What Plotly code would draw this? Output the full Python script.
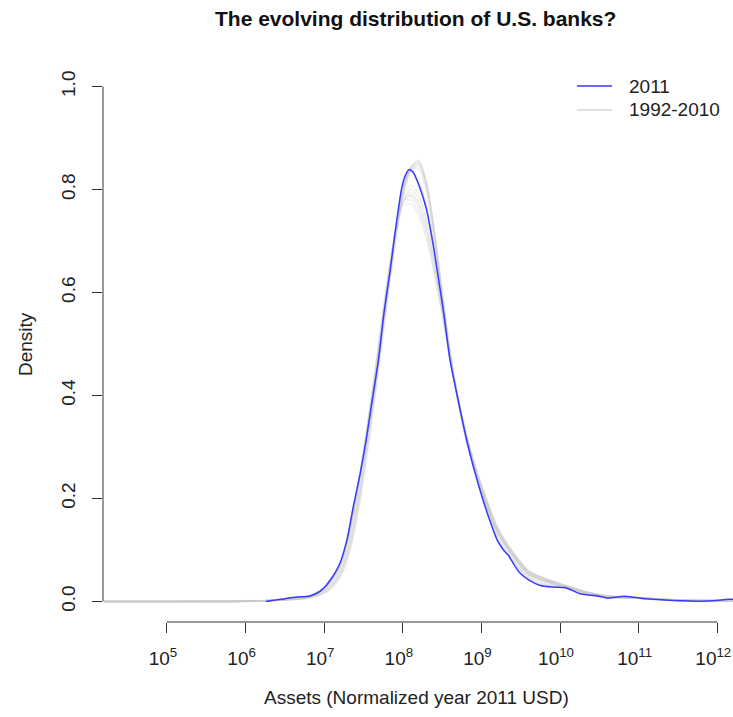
import plotly.graph_objects as go

# ---- data (x in log10 of assets, normalized 2011 USD) ----
blue_x = [6.26, 6.45, 6.57, 6.70, 6.80, 6.88, 6.95, 7.02, 7.07, 7.14, 7.20, 7.29, 7.37, 7.46, 7.53,
          7.60, 7.69, 7.76, 7.84, 7.90, 7.99, 8.04, 8.08, 8.13, 8.18, 8.24, 8.30, 8.39, 8.45, 8.52,
          8.60, 8.73, 8.81, 8.90, 9.02, 9.10, 9.20, 9.28, 9.34, 9.42, 9.49, 9.60, 9.75, 9.90, 10.06,
          10.15, 10.25, 10.40, 10.51, 10.60, 10.70, 10.81, 10.95, 11.10, 11.44, 11.87, 12.14, 12.20]
blue_y = [0.000, 0.004, 0.007, 0.009, 0.010, 0.014, 0.020, 0.030, 0.040, 0.056, 0.074, 0.120, 0.184, 0.250, 0.310,
          0.380, 0.469, 0.560, 0.644, 0.715, 0.806, 0.830, 0.839, 0.834, 0.818, 0.793, 0.762, 0.689, 0.630, 0.560,
          0.469, 0.372, 0.315, 0.260, 0.197, 0.160, 0.119, 0.100, 0.090, 0.070, 0.055, 0.042, 0.031, 0.028, 0.027,
          0.022, 0.015, 0.012, 0.0097, 0.0065, 0.008, 0.010, 0.008, 0.005, 0.002, 0.0006, 0.004, 0.004]

grid_x = [4.2, 5.0, 5.8, 6.3, 6.6, 6.8, 7.0, 7.1, 7.2, 7.3, 7.4, 7.5, 7.6, 7.7, 7.8, 7.9, 8.0, 8.1, 8.2,
          8.3, 8.4, 8.5, 8.6, 8.7, 8.8, 8.9, 9.0, 9.2, 9.4, 9.6, 9.8, 10.0, 10.3, 10.6, 11.0, 11.5, 12.2]

gray_years = list(range(1992, 2011))
gray_density = [
    [0,0,0,0.001,0.003,0.006, 0.015,0.026,0.045,0.082,0.145,0.235,0.342,0.458,0.578,0.690,0.782,0.834,0.848,0.812,0.722,0.605,0.488,0.396,0.322,0.266,0.218,0.138,0.091,0.055,0.042,0.032,0.019,0.010,0.006,0.002,0.001],
    [0,0,0,0.001,0.003,0.006, 0.016,0.028,0.048,0.086,0.151,0.242,0.349,0.464,0.583,0.694,0.786,0.838,0.852,0.814,0.722,0.603,0.486,0.394,0.321,0.265,0.217,0.137,0.090,0.054,0.041,0.032,0.019,0.010,0.006,0.002,0.001],
    [0,0,0.001,0.001,0.004,0.007, 0.017,0.029,0.050,0.090,0.156,0.248,0.355,0.470,0.588,0.698,0.790,0.842,0.856,0.815,0.720,0.600,0.484,0.392,0.320,0.264,0.216,0.136,0.089,0.054,0.041,0.031,0.018,0.009,0.006,0.002,0.001],
    [0,0,0.001,0.002,0.004,0.007, 0.018,0.031,0.052,0.093,0.161,0.253,0.360,0.475,0.592,0.702,0.793,0.844,0.858,0.816,0.718,0.598,0.482,0.391,0.319,0.263,0.215,0.136,0.089,0.053,0.040,0.031,0.018,0.009,0.006,0.002,0.001],
    [0,0,0,0.002,0.004,0.007, 0.019,0.032,0.054,0.096,0.165,0.258,0.364,0.478,0.595,0.704,0.794,0.843,0.854,0.810,0.714,0.596,0.481,0.390,0.318,0.263,0.215,0.135,0.088,0.053,0.040,0.031,0.018,0.009,0.006,0.002,0.001],
    [0,0,0,0.002,0.004,0.008, 0.020,0.034,0.056,0.099,0.169,0.262,0.368,0.481,0.597,0.706,0.795,0.842,0.850,0.805,0.710,0.594,0.480,0.390,0.318,0.262,0.214,0.135,0.088,0.052,0.040,0.030,0.018,0.009,0.006,0.002,0.001],
    [0,0,0,0.002,0.005,0.008, 0.021,0.035,0.058,0.102,0.173,0.266,0.371,0.484,0.600,0.708,0.796,0.840,0.845,0.800,0.706,0.592,0.479,0.389,0.317,0.262,0.214,0.134,0.087,0.052,0.039,0.030,0.017,0.009,0.006,0.002,0.001],
    [0,0,0,0.002,0.005,0.008, 0.022,0.037,0.060,0.105,0.177,0.270,0.375,0.487,0.603,0.710,0.797,0.838,0.840,0.796,0.703,0.590,0.478,0.389,0.317,0.262,0.214,0.134,0.087,0.052,0.039,0.030,0.017,0.009,0.006,0.002,0.001],
    [0,0,0,0.002,0.005,0.009, 0.024,0.040,0.065,0.113,0.188,0.280,0.382,0.492,0.606,0.706,0.778,0.800,0.786,0.740,0.665,0.575,0.482,0.398,0.328,0.272,0.224,0.142,0.094,0.058,0.044,0.034,0.020,0.010,0.007,0.003,0.001],
    [0,0,0,0.002,0.005,0.009, 0.025,0.042,0.068,0.117,0.193,0.285,0.388,0.498,0.612,0.710,0.778,0.795,0.776,0.728,0.655,0.568,0.478,0.397,0.328,0.272,0.224,0.143,0.095,0.058,0.044,0.034,0.020,0.010,0.007,0.003,0.001],
    [0,0,0.001,0.002,0.005,0.009, 0.026,0.043,0.070,0.120,0.197,0.290,0.393,0.503,0.617,0.713,0.776,0.788,0.766,0.718,0.647,0.562,0.475,0.396,0.328,0.273,0.225,0.144,0.095,0.059,0.045,0.034,0.020,0.011,0.007,0.003,0.001],
    [0,0,0.001,0.002,0.005,0.009, 0.026,0.044,0.071,0.122,0.200,0.293,0.397,0.507,0.620,0.714,0.772,0.780,0.757,0.710,0.640,0.558,0.473,0.396,0.329,0.274,0.226,0.145,0.096,0.059,0.045,0.035,0.020,0.011,0.007,0.003,0.001],
    [0,0,0,0.002,0.005,0.009, 0.027,0.045,0.072,0.123,0.201,0.294,0.398,0.508,0.620,0.712,0.768,0.772,0.750,0.704,0.636,0.556,0.472,0.396,0.330,0.275,0.227,0.146,0.096,0.060,0.045,0.035,0.020,0.011,0.007,0.003,0.001],
    [0,0,0,0.002,0.005,0.009, 0.026,0.044,0.071,0.121,0.198,0.291,0.394,0.504,0.617,0.713,0.775,0.790,0.772,0.724,0.650,0.563,0.474,0.395,0.327,0.272,0.224,0.143,0.095,0.058,0.044,0.034,0.020,0.010,0.007,0.003,0.001],
    [0,0,0,0.002,0.005,0.009, 0.025,0.042,0.068,0.117,0.193,0.286,0.389,0.499,0.612,0.712,0.785,0.808,0.792,0.742,0.662,0.568,0.474,0.393,0.325,0.270,0.222,0.141,0.093,0.057,0.043,0.033,0.019,0.010,0.007,0.003,0.001],
    [0,0,0,0.001,0.006,0.009, 0.026,0.044,0.071,0.123,0.200,0.282,0.378,0.480,0.603,0.713,0.805,0.835,0.818,0.770,0.688,0.586,0.474,0.395,0.323,0.264,0.211,0.126,0.082,0.048,0.036,0.030,0.016,0.008,0.007,0.002,0.002],
    [0,0,0,0.001,0.006,0.009, 0.026,0.045,0.072,0.125,0.203,0.284,0.380,0.481,0.604,0.714,0.806,0.836,0.815,0.767,0.685,0.584,0.472,0.394,0.322,0.263,0.210,0.125,0.081,0.047,0.035,0.029,0.016,0.008,0.007,0.002,0.002],
    [0,0,0,0.001,0.007,0.010, 0.027,0.046,0.073,0.126,0.204,0.284,0.380,0.480,0.604,0.714,0.808,0.837,0.812,0.764,0.683,0.582,0.471,0.394,0.321,0.262,0.209,0.123,0.079,0.045,0.033,0.028,0.015,0.007,0.007,0.002,0.002],
    [0,0,0,0.001,0.007,0.010, 0.027,0.046,0.074,0.127,0.205,0.285,0.380,0.480,0.605,0.715,0.809,0.838,0.811,0.763,0.681,0.581,0.470,0.394,0.321,0.261,0.208,0.121,0.077,0.043,0.032,0.028,0.015,0.007,0.007,0.002,0.002],
]

x_tick_vals = [5, 6, 7, 8, 9, 10, 11, 12]
x_tick_text = ["10<sup>%d</sup>" % v for v in x_tick_vals]
y_tick_vals = [0.0, 0.2, 0.4, 0.6, 0.8, 1.0]
y_tick_text = ["0.0", "0.2", "0.4", "0.6", "0.8", "1.0"]
legend_labels = ["2011", "1992-2010"]

FONT = "Liberation Sans, Arial, Helvetica, sans-serif"
TXT = "#222222"
GRAY = "rgba(200,200,200,0.24)"
GRAY_KEY = "rgb(214,214,214)"
BLUE = "#3a3aff"
BASE = 19

W, H = 733, 717
ML, MR, MT, MB = 103, 0, 66, 95
PW, PH = W - ML - MR, H - MT - MB


def px(x):
    return (x - ML) / PW


def py(y):
    return (H - MB - y) / PH


fig = go.Figure()
for i, (yr, dens) in enumerate(zip(gray_years, gray_density)):
    fig.add_trace(go.Scatter(
        x=grid_x, y=dens, mode="lines", name=str(yr),
        line=dict(color=GRAY, width=1.5, shape="spline", smoothing=0.7),
        showlegend=False))
fig.add_trace(go.Scatter(
    x=blue_x, y=blue_y, mode="lines", name="2011",
    line=dict(color=BLUE, width=1.5, shape="spline", smoothing=0.6),
    showlegend=False))

shapes = [
    dict(type="line", xref="x", yref="paper", x0=5, x1=12, y0=0, y1=0,
         line=dict(color="#333333", width=1)),
    dict(type="line", xref="paper", yref="y", x0=0, x1=0, y0=0, y1=1,
         line=dict(color="#333333", width=1)),
]
annotations = [
    dict(text="<b>The evolving distribution of U.S. banks?</b>", xref="paper", yref="paper",
         x=px(415), y=py(18), xanchor="center", yanchor="middle", showarrow=False,
         font=dict(size=21, color="#111111")),
    dict(text="Density", xref="paper", yref="paper", x=px(25), y=py(344), textangle=-90,
         xanchor="center", yanchor="middle", showarrow=False, font=dict(size=BASE, color=TXT)),
    dict(text="Assets (Normalized year 2011 USD)", xref="paper", yref="paper",
         x=px(416), y=py(697), xanchor="center", yanchor="middle", showarrow=False,
         font=dict(size=BASE, color=TXT)),
]
# manual legend (R style, no box)
for lab, col, yy in zip(legend_labels, [BLUE, GRAY_KEY], [86, 110]):
    shapes.append(dict(type="line", xref="paper", yref="paper",
                       x0=px(577), x1=px(612), y0=py(yy), y1=py(yy),
                       line=dict(color=col, width=1.6)))
    annotations.append(dict(text=lab, xref="paper", yref="paper", x=px(627), y=py(yy),
                            xanchor="left", yanchor="middle", showarrow=False,
                            font=dict(size=BASE, color=TXT)))

fig.update_layout(
    width=W, height=H,
    margin=dict(l=ML, r=MR, t=MT, b=MB, autoexpand=False),
    paper_bgcolor="white", plot_bgcolor="white",
    font=dict(family=FONT, size=BASE, color=TXT),
    showlegend=False,
    xaxis=dict(range=[4.186, 12.2], tickvals=x_tick_vals, ticktext=x_tick_text,
               ticks="outside", ticklen=10, tickwidth=1, tickcolor="#333333",
               showline=False, showgrid=False, zeroline=False, automargin=False,
               ticklabeloverflow="allow", ticklabelshift=-4,
               ticklabelstandoff=9, tickfont=dict(size=BASE, color=TXT)),
    yaxis=dict(range=[-0.04, 1.04], tickvals=y_tick_vals, ticktext=y_tick_text,
               ticks="outside", ticklen=10, tickwidth=1, tickcolor="#333333",
               showline=False, showgrid=False, zeroline=False, tickangle=-90,
               automargin=False,
               ticklabelstandoff=9, tickfont=dict(size=BASE, color=TXT)),
    shapes=shapes,
    annotations=annotations,
)

fig.write_html("out.html", config={"displayModeBar": False},
               post_script="document.body.style.margin='0';")
